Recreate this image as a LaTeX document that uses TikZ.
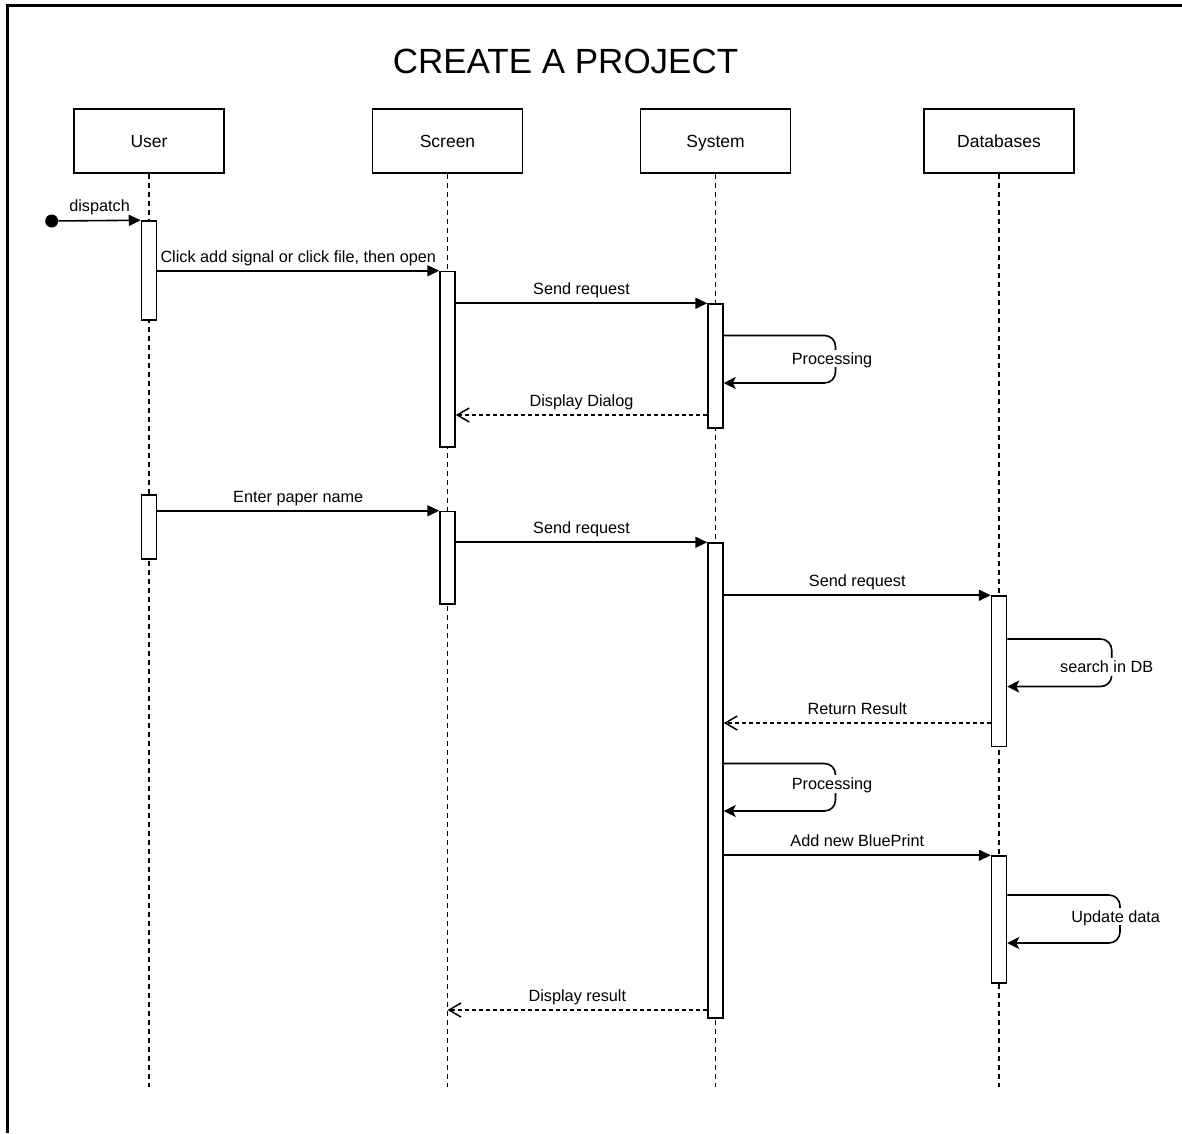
\documentclass[tikz,border=0pt]{standalone}
\usepackage{fontspec}
\setmainfont{Liberation Sans}
\usetikzlibrary{arrows.meta,calc}

\tikzset{
  actor/.style={draw, line width=1.6pt, minimum width=150pt, minimum height=64pt,
    inner sep=0pt, font=\fontsize{17.5}{20}\selectfont, text height=12.5pt, text depth=0pt},
  lifeline/.style={line width=1.8pt, dash pattern=on 5pt off 4pt},
  act/.style={draw, fill=white, line width=1.5pt, minimum width=15pt, inner sep=0pt},
  msg/.style={line width=1.6pt, -{Triangle[length=12pt,width=11pt]}},
  ret/.style={line width=1.6pt, dash pattern=on 4pt off 3pt,
    -{Straight Barb[length=12pt,width=14pt,line width=1.5pt]}},
  selfcall/.style={line width=1.6pt, rounded corners=11pt,
    -{Stealth[length=12pt,width=12pt,inset=3pt]}},
  lbl/.style={font=\fontsize{16.25}{19}\selectfont, text height=11.6pt, text depth=0pt, inner sep=0pt},
  msglbl/.style={lbl, midway, yshift=14.5pt},
  looplbl/.style={lbl, fill=white, inner sep=3pt},
}

\begin{document}
\begin{tikzpicture}[x=1pt, y=-1pt]
  \useasboundingbox (0,0) rectangle (1182,1133);

  % frame
  \draw[line width=2.2pt] (7.5,1133) -- (7.5,5.5) -- (1182,5.5);

  % title
  \node[font=\fontsize{35}{40}\selectfont, anchor=base] (title) at (565.5,73) {CREATE A PROJECT};

  % participants
  \node[actor] (user) at (149,141) {User};
  \node[actor] (scr)  at (447.5,141) {Screen};
  \node[actor] (sys)  at (715.5,141) {System};
  \node[actor] (db)   at (999,141) {Databases};

  % lifelines
  \coordinate (lend) at (0,1087);
  \foreach \p in {user,scr,sys,db}
    \draw[lifeline] (\p.south) -- (\p.south |- lend);

  % activation bars
  \node[act, minimum height=99pt]    (u1) at (149,270.5) {};
  \node[act, minimum height=64pt]    (u2) at (149,527) {};
  \node[act, minimum height=175.5pt] (s1) at (447.5,359.25) {};
  \node[act, minimum height=92.5pt]  (s2) at (447.5,557.75) {};
  \node[act, minimum height=124pt]   (y1) at (715.5,366) {};
  \node[act, minimum height=475pt]   (y2) at (715.5,780.5) {};
  \node[act, minimum height=150.5pt] (d1) at (999,671.25) {};
  \node[act, minimum height=127pt]   (d2) at (999,919.5) {};

  % initial message
  \node[circle, fill, minimum size=13pt, inner sep=0pt] (start) at (51.7,221) {};
  \draw[msg] (start) -- (u1.north west) node[msglbl] {dispatch};

  % first round: open a file
  \draw[msg] (u1.east |- s1.north) -- (s1.north west)
    node[msglbl] {Click add signal or click file, then open};
  \draw[msg] (s1.east |- y1.north) -- (y1.north west) node[msglbl] {Send request};

  \coordinate (lt1) at (835.5,335.5);
  \coordinate (lb1) at (835.5,383);
  \draw[selfcall] (y1.east |- lt1) -| (lb1) -- (y1.east |- lb1);
  \node[looplbl] (proc1) at (832,358.5) {Processing};

  \coordinate (r5) at (0,415);
  \draw[ret] (y1.west |- r5) -- (s1.east |- r5) node[msglbl] {Display Dialog};

  % second round: create the project
  \draw[msg] (u2.east |- s2.north) -- (s2.north west) node[msglbl] {Enter paper name};
  \draw[msg] (s2.east |- y2.north) -- (y2.north west) node[msglbl] {Send request};
  \draw[msg] (y2.east |- d1.north) -- (d1.north west) node[msglbl] {Send request};

  \coordinate (lt2) at (1111.7,639);
  \coordinate (lb2) at (1111.7,686.5);
  \draw[selfcall] (d1.east |- lt2) -| (lb2) -- (d1.east |- lb2);
  \node[looplbl] (search) at (1106.7,667) {search in DB};

  \coordinate (r10) at (0,723);
  \draw[ret] (d1.west |- r10) -- (y2.east |- r10) node[msglbl] {Return Result};

  \coordinate (lt3) at (835.5,763.5);
  \coordinate (lb3) at (835.5,811);
  \draw[selfcall] (y2.east |- lt3) -| (lb3) -- (y2.east |- lb3);
  \node[looplbl] (proc2) at (832,784) {Processing};

  \draw[msg] (y2.east |- d2.north) -- (d2.north west) node[msglbl] {Add new BluePrint};

  \coordinate (lt4) at (1120,895);
  \coordinate (lb4) at (1120,943);
  \draw[selfcall] (d2.east |- lt4) -| (lb4) -- (d2.east |- lb4);
  \node[looplbl] (update) at (1115.7,916.5) {Update data};

  \coordinate (r14) at (0,1010);
  \draw[ret] (y2.west |- r14) -- (scr.south |- r14) node[msglbl] {Display result};
\end{tikzpicture}
\end{document}
